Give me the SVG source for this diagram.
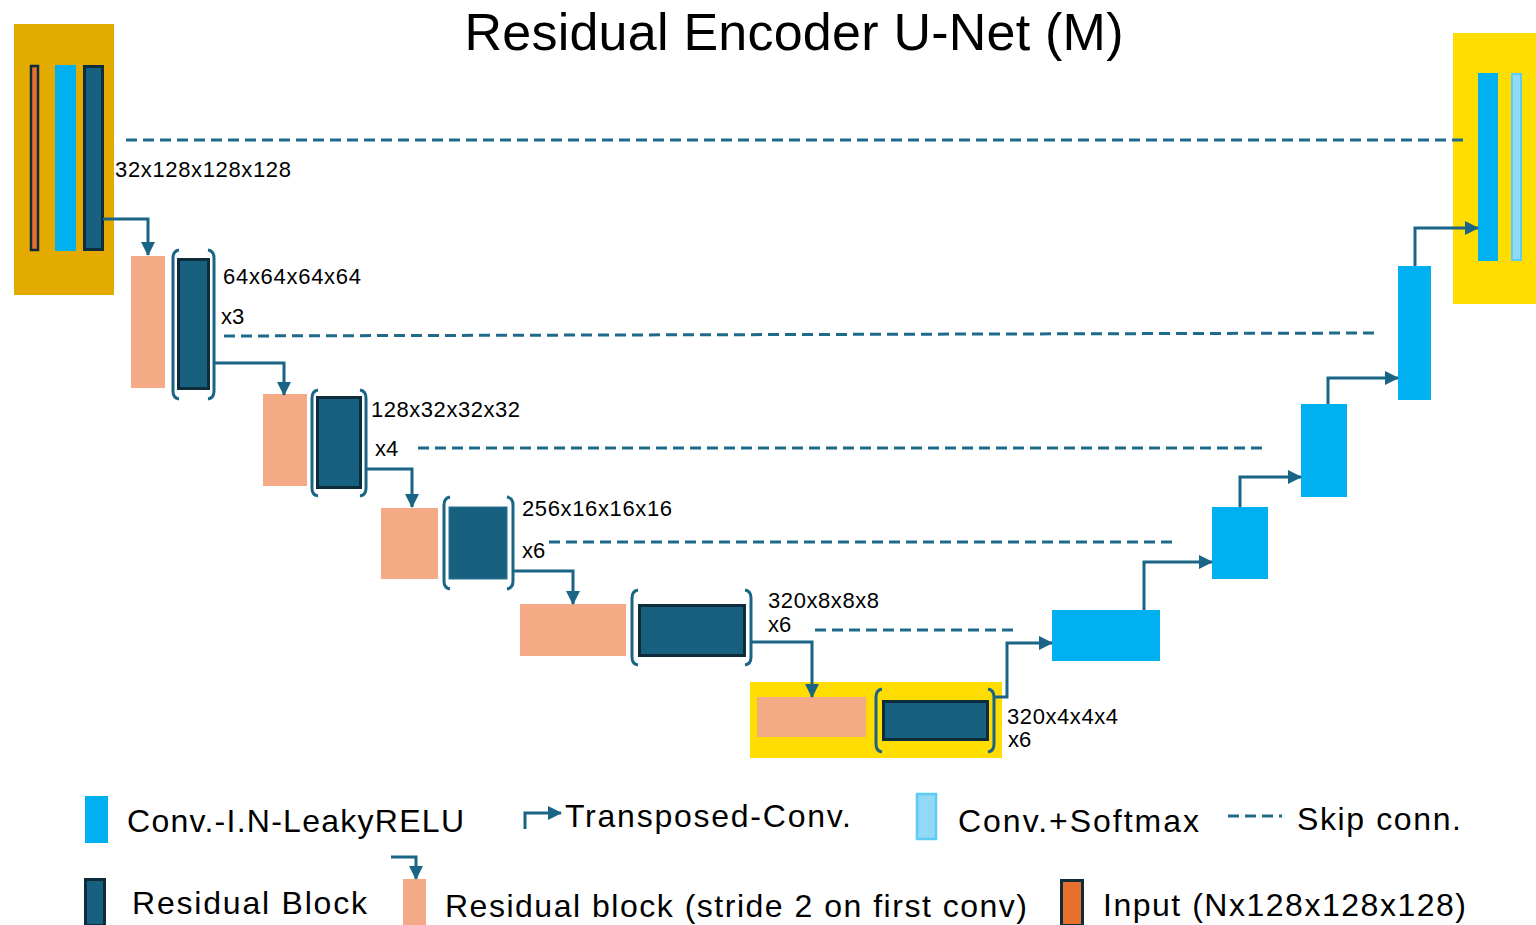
<svg xmlns="http://www.w3.org/2000/svg" width="1536" height="925" viewBox="0 0 1536 925">
<defs>
<style>
.t{font-family:"Liberation Sans",Arial,sans-serif;fill:#000}
.lbl{font-size:22px}
.leg{font-size:32px}
.res{fill:#186080;stroke:#0D2C3C;stroke-width:3}
.ds{fill:#F4AA84}
.cv{fill:#00B0F0}
.br{fill:none;stroke:#1A6485;stroke-width:3}
.cn{fill:none;stroke:#1A6485;stroke-width:3;marker-end:url(#ah)}
.sk{fill:none;stroke:#1F6A8A;stroke-width:3;stroke-dasharray:11 6}
</style>
<marker id="ah" markerUnits="userSpaceOnUse" markerWidth="14" markerHeight="14" refX="13" refY="7" orient="auto">
<path d="M0,0 L14,7 L0,14 z" fill="#1A6485"/>
</marker>
</defs>
<rect width="1536" height="925" fill="#fff"/>
<text class="t" x="794" y="50" font-size="52" text-anchor="middle" textLength="659">Residual Encoder U-Net (M)</text>

<g id="input-stage">
<rect x="14" y="24" width="100" height="271" fill="#E3AA00"/>
<rect x="31" y="66" width="7" height="184" fill="#E8702E" stroke="#0D2C3C" stroke-width="2.5"/>
<rect x="55" y="65" width="21" height="186" class="cv"/>
<rect x="84.5" y="66.5" width="18" height="183" class="res"/>
<text class="t lbl" x="115" y="177" textLength="176">32x128x128x128</text>
</g>

<g id="enc1">
<rect x="131" y="256" width="34" height="132" class="ds"/>
<rect x="178.5" y="259.5" width="30" height="129" class="res"/>
<path class="br" d="M179,250 Q173,251 173,258 V391 Q173,398 179,399"/>
<path class="br" d="M208,250 Q214,251 214,258 V391 Q214,398 208,399"/>
<text class="t lbl" x="223" y="284" textLength="138">64x64x64x64</text>
<text class="t lbl" x="221" y="324">x3</text>
</g>

<g id="enc2">
<rect x="263" y="394" width="44" height="92" class="ds"/>
<rect x="317.5" y="397.5" width="43" height="90" class="res"/>
<path class="br" d="M318,390 Q312,391 312,398 V488 Q312,495 318,496"/>
<path class="br" d="M360,390 Q366,391 366,398 V488 Q366,495 360,496"/>
<text class="t lbl" x="371" y="417" textLength="149">128x32x32x32</text>
<text class="t lbl" x="375" y="456">x4</text>
</g>

<g id="enc3">
<rect x="381" y="508" width="57" height="71" class="ds"/>
<rect x="449" y="507" width="58" height="72" fill="#186080" stroke="#2C7090" stroke-width="1"/>
<path class="br" d="M450,497 Q444,498 444,505 V581 Q444,588 450,589"/>
<path class="br" d="M507,497 Q513,498 513,505 V581 Q513,588 507,589"/>
<text class="t lbl" x="522" y="516" textLength="150">256x16x16x16</text>
<text class="t lbl" x="522" y="558">x6</text>
</g>

<g id="enc4">
<rect x="520" y="604" width="106" height="52" class="ds"/>
<rect x="639.5" y="605.5" width="105" height="50" class="res"/>
<path class="br" d="M638,590 Q632,591 632,598 V657 Q632,664 638,665"/>
<path class="br" d="M745,590 Q751,591 751,598 V657 Q751,664 745,665"/>
<text class="t lbl" x="768" y="608" textLength="111">320x8x8x8</text>
<text class="t lbl" x="768" y="632">x6</text>
</g>

<g id="bottleneck">
<rect x="750" y="682" width="252" height="76" fill="#FFDD00"/>
<rect x="757" y="697" width="109" height="40" class="ds"/>
<rect x="883.5" y="701.5" width="104" height="38" class="res"/>
<path class="br" d="M882,689 Q876,690 876,697 V744 Q876,751 882,752"/>
<path class="br" d="M988,689 Q994,690 994,697 V744 Q994,751 988,752"/>
<text class="t lbl" x="1007" y="724" textLength="111">320x4x4x4</text>
<text class="t lbl" x="1008" y="747">x6</text>
</g>

<g id="dec4"><rect x="1052" y="610" width="108" height="51" class="cv"/></g>
<g id="dec3"><rect x="1212" y="507" width="56" height="72" class="cv"/></g>
<g id="dec2"><rect x="1301" y="404" width="46" height="93" class="cv"/></g>
<g id="dec1"><rect x="1398" y="266" width="33" height="134" class="cv"/></g>

<g id="output-stage">
<rect x="1453" y="33" width="83" height="271" fill="#FFDD00"/>
<rect x="1478" y="73" width="20" height="188" class="cv"/>
<rect x="1512" y="74" width="9" height="186" fill="#92D9F7" stroke="#5ECBF3" stroke-width="2"/>
</g>

<g id="connectors">
<path class="sk" d="M126,140 H1467"/>
<path class="sk" d="M224,336 L1376,333"/>
<path class="sk" d="M418,448 H1267"/>
<path class="sk" d="M549,542 H1176"/>
<path class="sk" d="M815,630 H1013"/>
<path class="cn" d="M103,219 H148 V255"/>
<path class="cn" d="M215,363 H284 V395"/>
<path class="cn" d="M366,469 H412 V507"/>
<path class="cn" d="M513,571 H573 V604"/>
<path class="cn" d="M752,642 H812 V697"/>
<path class="cn" d="M995,697 H1007 V643 H1052"/>
<path class="cn" d="M1144,610 V562 H1212"/>
<path class="cn" d="M1240,507 V477 H1301"/>
<path class="cn" d="M1328,404 V378 H1398"/>
<path class="cn" d="M1415,266 V228 H1478"/>
</g>

<g id="legend">
<rect x="85" y="796" width="23" height="47" class="cv"/>
<text class="t leg" x="127" y="832" textLength="337">Conv.-I.N-LeakyRELU</text>
<path class="cn" d="M525,829 V813 H561"/>
<text class="t leg" x="565" y="827" textLength="286">Transposed-Conv.</text>
<rect x="917" y="794" width="19" height="45" fill="#92D9F7" stroke="#5ECBF3" stroke-width="2.5"/>
<text class="t leg" x="958" y="832" textLength="241">Conv.+Softmax</text>
<path class="sk" d="M1228,816 H1282" stroke-dasharray="7 3" stroke-width="2.5"/>
<text class="t leg" x="1297" y="830" textLength="164">Skip conn.</text>
<rect x="85.5" y="879.5" width="19" height="46" class="res"/>
<text class="t leg" x="132" y="914" textLength="235">Residual Block</text>
<path class="cn" d="M391,857 H416 V879"/>
<rect x="403" y="879" width="23" height="46" class="ds"/>
<text class="t leg" x="445" y="917" textLength="582">Residual block (stride 2 on first conv)</text>
<rect x="1061.5" y="880.5" width="21" height="45" fill="#E8702E" stroke="#0D2C3C" stroke-width="3"/>
<text class="t leg" x="1103" y="916" textLength="363">Input (Nx128x128x128)</text>
</g>
</svg>
